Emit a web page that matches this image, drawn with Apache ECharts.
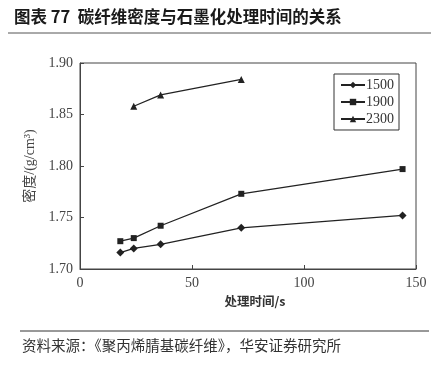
<!DOCTYPE html>
<html>
<head>
<meta charset="utf-8">
<script src="https://cdn.jsdelivr.net/npm/echarts@6/dist/echarts.min.js"></script>
<style>
  html, body { margin: 0; padding: 0; background: #fff; }
  #chart { width: 440px; height: 367px; }
</style>
</head>
<body>
<div id="chart"></div>
<script>
// processing time (s) and density (g/cm3) per graphitization temperature
const times1500 = [18, 24, 36, 72, 144];
const dens1500 = [1.716, 1.720, 1.724, 1.740, 1.752];
const times1900 = [18, 24, 36, 72, 144];
const dens1900 = [1.727, 1.730, 1.742, 1.773, 1.797];
const times2300 = [24, 36, 72];
const dens2300 = [1.858, 1.869, 1.884];
const seriesNames = ["1500", "1900", "2300"];

const chart = echarts.init(document.getElementById("chart"), null, { renderer: "canvas" });

const serif = "'Liberation Serif', 'Noto Sans CJK SC'";
const cjk = "Noto Sans CJK SC";

function pairs(xs, ys) {
  return xs.map((x, i) => [x, ys[i]]);
}

function lineSeries(name, xs, ys, symbol, size) {
  return {
    name: name,
    type: "line",
    data: pairs(xs, ys),
    symbol: symbol,
    symbolSize: size,
    showSymbol: true,
    lineStyle: { color: "#222", width: 1.3 },
    itemStyle: { color: "#222" },
    animation: false,
  };
}

chart.setOption({
  backgroundColor: "#fff",
  title: {
    text: "图表 77  碳纤维密度与石墨化处理时间的关系",
    left: 9,
    top: 3,
    textStyle: { fontFamily: cjk, fontSize: 16.5, fontWeight: "bold", color: "#1a1a1a" },
  },
  legend: {
    data: seriesNames,
    orient: "vertical",
    left: 334,
    top: 74,
    itemWidth: 24,
    itemHeight: 8,
    itemGap: 3,
    padding: [4, 5, 4, 6],
    borderColor: "#333",
    borderWidth: 1,
    textStyle: { fontFamily: serif, fontSize: 14, color: "#333", padding: [0, 0, 0, -4] },
  },
  grid: {
    left: 80,
    top: 63,
    right: 24,
    bottom: 98,
    show: true,
    borderColor: "#444",
    borderWidth: 1,
  },
  xAxis: {
    type: "value",
    min: 0,
    max: 150,
    interval: 50,
    name: "处理时间/s",
    nameLocation: "middle",
    nameGap: 26,
    nameTextStyle: { fontFamily: cjk, fontSize: 12.5, fontWeight: "bold", color: "#333", padding: [0, 0, 0, 14] },
    axisLine: { lineStyle: { color: "#444" } },
    axisTick: { inside: true, length: 4, lineStyle: { color: "#444" } },
    axisLabel: { fontFamily: serif, fontSize: 14, color: "#444", margin: 7 },
    splitLine: { show: false },
  },
  yAxis: {
    type: "value",
    min: 1.7,
    max: 1.9,
    interval: 0.05,
    name: "密度/(g/cm³)",
    nameLocation: "middle",
    nameGap: 42,
    nameTextStyle: { fontFamily: serif, fontSize: 14, color: "#444" },
    axisLine: { lineStyle: { color: "#444" } },
    axisTick: { inside: true, length: 4, lineStyle: { color: "#444" } },
    axisLabel: {
      fontFamily: serif,
      fontSize: 14,
      color: "#444",
      margin: 7,
      formatter: (v) => v.toFixed(2),
    },
    splitLine: { show: false },
  },
  series: [
    lineSeries(seriesNames[0], times1500, dens1500, "diamond", 8),
    lineSeries(seriesNames[1], times1900, dens1900, "rect", 6),
    lineSeries(seriesNames[2], times2300, dens2300, "triangle", 7),
  ],
  graphic: [
    {
      type: "line",
      shape: { x1: 8, y1: 33, x2: 431, y2: 33 },
      style: { stroke: "#555", lineWidth: 1 },
    },
    {
      type: "line",
      shape: { x1: 20, y1: 331, x2: 429, y2: 331 },
      style: { stroke: "#333", lineWidth: 1 },
    },
    {
      type: "text",
      left: 22,
      top: 338,
      style: {
        text: "资料来源：《聚丙烯腈基碳纤维》，华安证券研究所",
        font: "14.5px 'Noto Sans CJK SC'",
        fill: "#333",
      },
    },
  ],
});
</script>
</body>
</html>
